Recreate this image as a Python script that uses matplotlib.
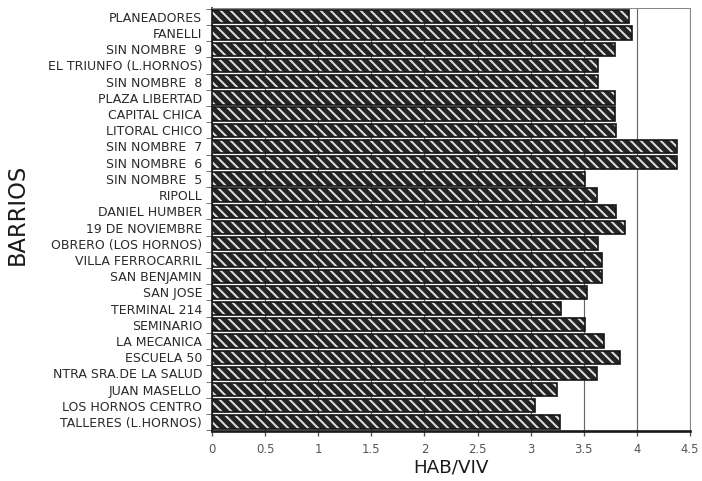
import matplotlib
matplotlib.use("Agg")
import matplotlib.pyplot as plt
import numpy as np

barrios = [
    "PLANEADORES", "FANELLI", "SIN NOMBRE  9", "EL TRIUNFO (L.HORNOS)",
    "SIN NOMBRE  8", "PLAZA LIBERTAD", "CAPITAL CHICA", "LITORAL CHICO",
    "SIN NOMBRE  7", "SIN NOMBRE  6", "SIN NOMBRE  5", "RIPOLL",
    "DANIEL HUMBER", "19 DE NOVIEMBRE", "OBRERO (LOS HORNOS)",
    "VILLA FERROCARRIL", "SAN BENJAMIN", "SAN JOSE", "TERMINAL 214",
    "SEMINARIO", "LA MECANICA", "ESCUELA 50", "NTRA SRA.DE LA SALUD",
    "JUAN MASELLO", "LOS HORNOS CENTRO", "TALLERES (L.HORNOS)",
]
hab_viv = [
    3.93, 3.95, 3.79, 3.63,
    3.63, 3.79, 3.79, 3.80,
    4.38, 4.38, 3.51, 3.62,
    3.80, 3.89, 3.63,
    3.67, 3.67, 3.53, 3.29,
    3.51, 3.69, 3.84, 3.62,
    3.25, 3.04, 3.28,
]
x_ticks = [0, 0.5, 1, 1.5, 2, 2.5, 3, 3.5, 4, 4.5]
x_ticklabels = ["0", "0.5", "1", "1.5", "2", "2.5", "3", "3.5", "4", "4.5"]

plt.rcParams['font.family'] = ['DejaVu Sans']
plt.rcParams['hatch.linewidth'] = 1.2

fig = plt.figure(figsize=(702 / 120, 481 / 120), dpi=120)
ax = fig.add_axes([0.302, 0.104, 0.6809, 0.8796])

# vertical reference lines at the tick positions, behind the bars
for t in x_ticks:
    ax.axvline(t, color='#666666', linewidth=0.7, zorder=0.5)

y = np.arange(len(barrios))
ax.barh(y, hab_viv, height=0.82, color='#242424', edgecolor='#dedede',
        linewidth=0, hatch='\\\\\\\\', zorder=3)
ax.barh(y, hab_viv, height=0.82, fill=False, edgecolor='#151515',
        linewidth=1.0, zorder=4)

ax.set_xlim(0, 4.5)
ax.set_ylim(len(barrios) - 0.45, -0.55)
ax.set_xticks(x_ticks)
ax.set_xticklabels(x_ticklabels)
ax.set_yticks(y)
ax.set_yticklabels(barrios)
ax.set_yticks(np.arange(len(barrios) + 1) - 0.5, minor=True)

ax.tick_params(axis='y', which='major', length=0, pad=6, labelsize=7.5,
               labelcolor='#2a2a2a')
ax.tick_params(axis='y', which='minor', length=3.5, width=0.6, color='#777777')
ax.tick_params(axis='x', which='major', length=3, width=0.8, color='#555555',
               pad=4, labelsize=7, labelcolor='#555555')

for side in ['top', 'right']:
    ax.spines[side].set_color('#888888')
    ax.spines[side].set_linewidth(0.6)
ax.spines['bottom'].set_color('#1a1a1a')
ax.spines['bottom'].set_linewidth(1.6)
ax.spines['left'].set_color('#1a1a1a')
ax.spines['left'].set_linewidth(1.0)

ax.set_xlabel('HAB/VIV', fontsize=11, color='#1a1a1a', labelpad=2)
fig.text(0.024, 0.555, 'BARRIOS', rotation=90, fontsize=13.5,
         color='#1a1a1a', ha='center', va='center')

fig.savefig('out.png', dpi=120, facecolor='white')
